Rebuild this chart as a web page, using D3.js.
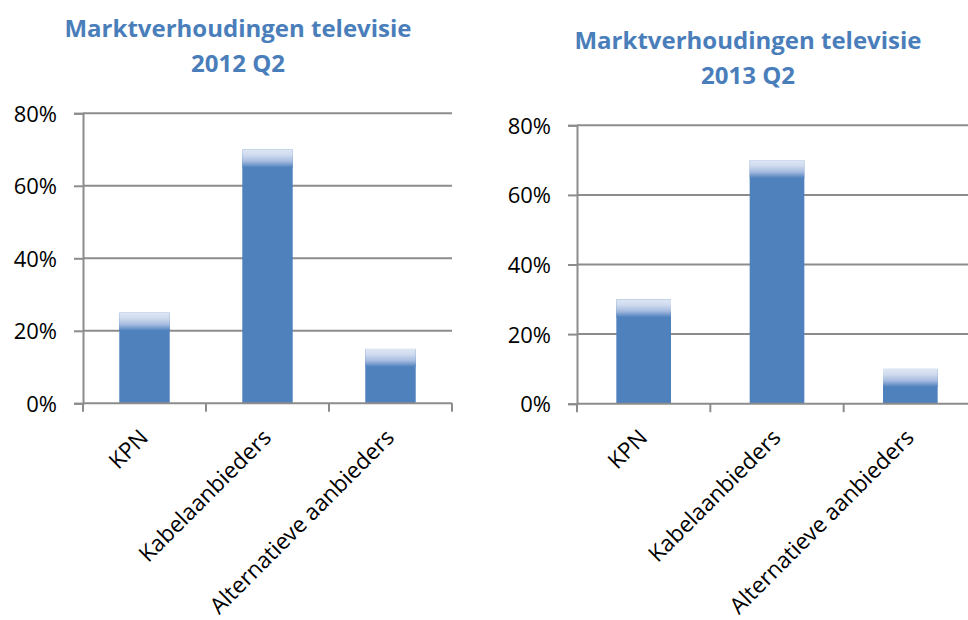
<!DOCTYPE html>
<html>
<head>
<meta charset="utf-8">
<script src="https://cdn.jsdelivr.net/npm/d3@7"></script>
<style>
  html, body { margin: 0; padding: 0; background: #ffffff; }
  svg { display: block; }
</style>
</head>
<body>
<svg id="chart" width="968" height="620"></svg>
<script>
// ---- data ----
const categories = ["KPN", "Kabelaanbieders", "Alternatieve aanbieders"];
const values2012 = [0.25, 0.70, 0.15];
const values2013 = [0.30, 0.70, 0.10];
const yTicks = [0, 0.2, 0.4, 0.6, 0.8];
const titleLine1 = "Marktverhoudingen televisie";
const titles2 = ["2012 Q2", "2013 Q2"];

// ---- styles ----
const FONT = "'Open Sans', 'Liberation Sans', sans-serif";
const BAR = "#4f81bd";
const GRID = "#8c8c8c";
const TITLE = "#4a7ebb";

const svg = d3.select("#chart");

const defs = svg.append("defs");
const grad = defs.append("linearGradient")
  .attr("id", "barTop").attr("x1", 0).attr("y1", 0).attr("x2", 0).attr("y2", 1);
grad.append("stop").attr("offset", 0).attr("stop-color", "#dee6f4");
grad.append("stop").attr("offset", 0.3).attr("stop-color", "#d0dbef");
grad.append("stop").attr("offset", 0.65).attr("stop-color", "#a6bce0");
grad.append("stop").attr("offset", 1).attr("stop-color", BAR);

const panels = [
  { values: values2012, title2: titles2[0], xr: [83, 452], yr: [403.3, 113.3], tx: 238, ty: [37, 72] },
  { values: values2013, title2: titles2[1], xr: [577, 977], yr: [403.7, 125.3], tx: 748, ty: [49, 84] }
];

panels.forEach(p => {
  const g = svg.append("g");

  const x = d3.scaleBand().domain(categories).range(p.xr)
    .paddingInner(0.59).paddingOuter(0.295);
  const y = d3.scaleLinear().domain([0, 0.8]).range(p.yr);

  // title
  g.append("text").attr("x", p.tx).attr("y", p.ty[0])
    .attr("text-anchor", "middle").attr("font-family", FONT)
    .attr("font-weight", "bold").attr("font-size", 24).attr("fill", TITLE)
    .text(titleLine1);
  g.append("text").attr("x", p.tx).attr("y", p.ty[1])
    .attr("text-anchor", "middle").attr("font-family", FONT)
    .attr("font-weight", "bold").attr("font-size", 24).attr("fill", TITLE)
    .text(p.title2);

  // gridlines
  g.selectAll(".grid").data(yTicks.slice(1)).join("line")
    .attr("x1", p.xr[0]).attr("x2", p.xr[1])
    .attr("y1", d => y(d)).attr("y2", d => y(d))
    .attr("stroke", GRID).attr("stroke-width", 2);

  // bars
  const vals = categories.map((c, i) => ({ c, v: p.values[i] }));
  g.selectAll(".bar").data(vals).join("rect")
    .attr("x", d => x(d.c)).attr("width", x.bandwidth())
    .attr("y", d => y(d.v)).attr("height", d => y(0) - y(d.v))
    .attr("fill", BAR);
  g.selectAll(".bartop").data(vals).join("rect")
    .attr("x", d => x(d.c)).attr("width", x.bandwidth())
    .attr("y", d => y(d.v)).attr("height", d => Math.min(18, y(0) - y(d.v)))
    .attr("fill", "url(#barTop)");

  // y axis
  const yAxis = d3.axisLeft(y).tickValues(yTicks).tickFormat(d3.format(".0%"))
    .tickSize(9).tickPadding(17);
  const ya = g.append("g").attr("transform", `translate(${p.xr[0]},0)`).call(yAxis);
  ya.select(".domain").attr("stroke", GRID).attr("stroke-width", 2);
  ya.selectAll(".tick line").attr("stroke", GRID).attr("stroke-width", 2);
  ya.selectAll(".tick text").attr("font-family", FONT).attr("font-size", 22)
    .attr("fill", "#000").attr("dy", "0.36em");

  // x axis line + boundary ticks
  g.append("line").attr("x1", p.xr[0]).attr("x2", p.xr[1])
    .attr("y1", y(0)).attr("y2", y(0))
    .attr("stroke", GRID).attr("stroke-width", 2);
  const bounds = d3.range(categories.length + 1).map(i => p.xr[0] + i * x.step());
  g.selectAll(".xtick").data(bounds).join("line")
    .attr("x1", d => d).attr("x2", d => d)
    .attr("y1", y(0)).attr("y2", y(0) + 8.5)
    .attr("stroke", GRID).attr("stroke-width", 2);

  // category labels
  g.selectAll(".xlabel").data(categories).join("text")
    .attr("transform", d => `translate(${x(d) + x.bandwidth() / 2 + 5},439) rotate(-45)`)
    .attr("text-anchor", "end").attr("font-family", FONT).attr("font-size", 22.5)
    .attr("fill", "#000")
    .text(d => d);
});
</script>
</body>
</html>
